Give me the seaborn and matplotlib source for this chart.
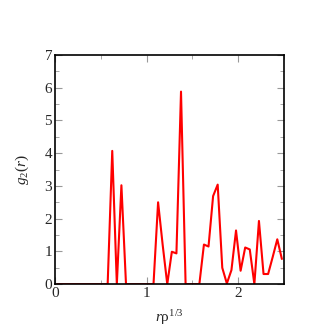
import matplotlib
matplotlib.use('Agg')
import matplotlib.pyplot as plt
import seaborn as sns
import pandas as pd
from matplotlib.ticker import MultipleLocator

sns.set_style('ticks')
plt.rcParams['font.family'] = ['Liberation Serif', 'DejaVu Serif']
plt.rcParams['mathtext.fontset'] = 'custom'
plt.rcParams['mathtext.rm'] = 'Liberation Serif'
plt.rcParams['mathtext.it'] = 'Liberation Serif:italic'

# bin centres r*rho^(1/3) and pair distribution values
r = [0.025, 0.075, 0.125, 0.175, 0.225, 0.275, 0.325, 0.375, 0.425, 0.475,
     0.525, 0.575, 0.625, 0.675, 0.725, 0.775, 0.825, 0.875, 0.925, 0.975,
     1.025, 1.075, 1.125, 1.175, 1.225, 1.275, 1.325, 1.375, 1.425, 1.475,
     1.525, 1.575, 1.625, 1.675, 1.725, 1.775, 1.825, 1.875, 1.925, 1.975,
     2.025, 2.075, 2.125, 2.175, 2.225, 2.275, 2.325, 2.375, 2.425, 2.475]
g2 = [0, 0, 0, 0, 0, 0, 0, 0, 0, 0,
      0, 0, 4.07, 0, 3.02, 0, 0, 0, 0, 0,
      0, 0, 2.50, 1.20, 0, 0.99, 0.94, 5.88, 0, 0,
      0, 0, 1.21, 1.15, 2.69, 3.04, 0.50, 0.02, 0.43, 1.64,
      0.41, 1.12, 1.06, 0, 1.93, 0.31, 0.31, 0.83, 1.37, 0.77]

df = pd.DataFrame({'r': r, 'g2': g2})

fig = plt.figure(figsize=(3.27, 3.27), dpi=100)
ax = fig.add_axes([0.168, 0.131, 0.701, 0.701])
sns.lineplot(data=df, x='r', y='g2', color='red', linewidth=1.5, ax=ax)

ax.set_xlim(0, 2.5)
ax.set_ylim(0, 7)
ax.xaxis.set_major_locator(MultipleLocator(1))
ax.xaxis.set_minor_locator(MultipleLocator(0.5))
ax.yaxis.set_major_locator(MultipleLocator(1))
ax.yaxis.set_minor_locator(MultipleLocator(0.5))
ax.tick_params(which='both', direction='in', top=True, right=True,
               color='#999999', labelsize=11, pad=2)
ax.tick_params(which='major', length=5)
ax.tick_params(which='minor', length=3)
for s in ax.spines.values():
    s.set_linewidth(1.2)
    s.set_color('black')

ax.set_xlabel(r'$r$ρ$^{1/3}$', fontsize=11, labelpad=6)
ax.set_ylabel(r'$g_2(r)$', fontsize=11, labelpad=10)

fig.savefig('out.png', dpi=100)
